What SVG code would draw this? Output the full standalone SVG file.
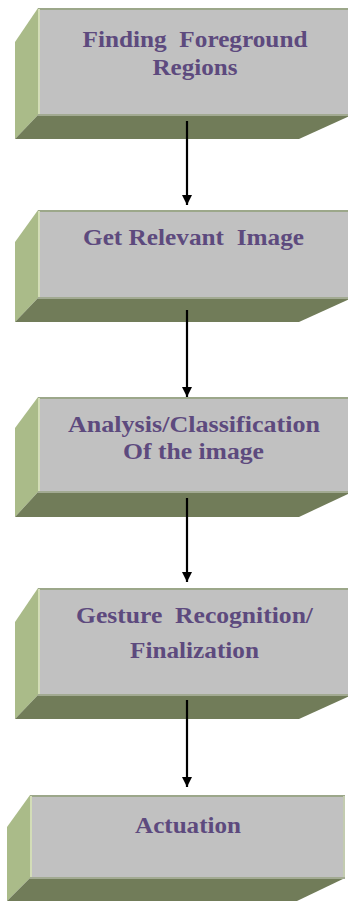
<svg xmlns="http://www.w3.org/2000/svg" width="348" height="901" viewBox="0 0 348 901">
<defs>
<style>
.side{fill:#aabb89}
.bot{fill:#717c59}
.front{fill:#c1c1c1}
.topl{fill:#9ca78a}
.leftl{fill:#d3ddb7}
.botl{fill:#a2aa92}
.rightl{fill:#c3cbb0}
text{font-family:"Liberation Serif","Times New Roman",serif;font-weight:bold;font-size:23px;fill:#5d4a7e;text-anchor:middle}
.conn line{stroke:#000;stroke-width:2.2}
</style>
<marker id="ah" viewBox="0 0 10 11" refX="10" refY="5" markerWidth="10" markerHeight="11" markerUnits="userSpaceOnUse" orient="auto">
<path d="M0,0 L10,5 L0,10 Z" fill="#000"/>
</marker>
</defs>
<rect width="348" height="901" fill="#fff"/>

<g id="n1">
<polygon class="side" points="15,42 38,8 38,115 15,139"/>
<polygon class="bot" points="38,115 352,115 299,139 15,139"/>
<rect class="front" x="40" y="9" width="312" height="106"/>
<rect class="topl" x="38" y="8" width="314" height="2"/>
<rect class="leftl" x="38" y="9" width="2" height="106"/>
<rect class="botl" x="38" y="114" width="314" height="2"/>
<text x="195" y="47" xml:space="preserve" textLength="225" lengthAdjust="spacingAndGlyphs">Finding  Foreground</text>
<text x="195" y="75" textLength="85" lengthAdjust="spacingAndGlyphs">Regions</text>
</g>

<g id="n2">
<polygon class="side" points="15,242 38,210 38,298 15,322"/>
<polygon class="bot" points="38,298 352,298 299,322 15,322"/>
<rect class="front" x="40" y="211" width="312" height="87"/>
<rect class="topl" x="38" y="210" width="314" height="2"/>
<rect class="leftl" x="38" y="211" width="2" height="87"/>
<rect class="botl" x="38" y="297" width="314" height="2"/>
<text x="193.5" y="245" xml:space="preserve" textLength="221" lengthAdjust="spacingAndGlyphs">Get Relevant  Image</text>
</g>

<g id="n3">
<polygon class="side" points="15,428 38,397 38,492 15,517"/>
<polygon class="bot" points="38,492 352,492 299,517 15,517"/>
<rect class="front" x="40" y="398" width="312" height="94"/>
<rect class="topl" x="38" y="397" width="314" height="2"/>
<rect class="leftl" x="38" y="398" width="2" height="94"/>
<rect class="botl" x="38" y="491" width="314" height="2"/>
<text x="194" y="432" textLength="252" lengthAdjust="spacingAndGlyphs">Analysis/Classification</text>
<text x="193.5" y="459" textLength="141" lengthAdjust="spacingAndGlyphs">Of the image</text>
</g>

<g id="n4">
<polygon class="side" points="15,622 38,588 38,695 15,719"/>
<polygon class="bot" points="38,695 352,695 299,719 15,719"/>
<rect class="front" x="40" y="589" width="312" height="106"/>
<rect class="topl" x="38" y="588" width="314" height="2"/>
<rect class="leftl" x="38" y="589" width="2" height="106"/>
<rect class="botl" x="38" y="694" width="314" height="2"/>
<text x="194.5" y="623" xml:space="preserve" textLength="237" lengthAdjust="spacingAndGlyphs">Gesture  Recognition/</text>
<text x="194.5" y="658" textLength="129" lengthAdjust="spacingAndGlyphs">Finalization</text>
</g>

<g id="n5">
<polygon class="side" points="7,827 30,795 30,878 7,901"/>
<polygon class="bot" points="30,878 345,878 297,901 7,901"/>
<rect class="front" x="32" y="796" width="312" height="82"/>
<rect class="topl" x="30" y="795" width="315" height="2"/>
<rect class="leftl" x="30" y="796" width="2" height="82"/>
<rect class="rightl" x="343" y="796" width="2" height="82"/>
<rect class="botl" x="30" y="877" width="315" height="2"/>
<text x="188" y="833" textLength="106" lengthAdjust="spacingAndGlyphs">Actuation</text>
</g>

<g id="connectors" class="conn">
<line x1="187" y1="121" x2="187" y2="205" marker-end="url(#ah)"/>
<line x1="187" y1="310" x2="187" y2="397" marker-end="url(#ah)"/>
<line x1="187" y1="498" x2="187" y2="582" marker-end="url(#ah)"/>
<line x1="187" y1="700" x2="187" y2="787" marker-end="url(#ah)"/>
</g>
</svg>
